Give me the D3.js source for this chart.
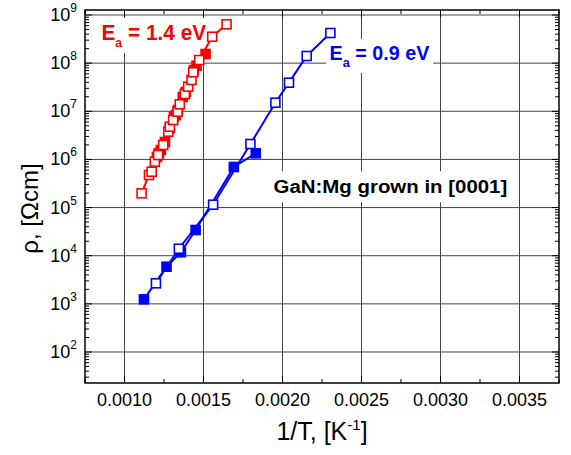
<!DOCTYPE html>
<html><head><meta charset="utf-8">
<script src="https://cdn.jsdelivr.net/npm/d3@7"></script>
<style>body{margin:0;background:#fff}svg{display:block}</style>
</head><body>
<svg id="c" width="571" height="455"></svg>
<script>
// ---- data ----
const xTicks = [0.0010, 0.0015, 0.0020, 0.0025, 0.0030, 0.0035];
const xTickLabels = ["0.0010", "0.0015", "0.0020", "0.0025", "0.0030", "0.0035"];
const yDecades = [2, 3, 4, 5, 6, 7, 8, 9];

const redOpenX = [0.001108,0.001155,0.001172,0.001192,0.001213,0.001245,0.001277,0.001287,0.001308,0.001336,0.001350,0.001382,0.001403,0.001424,0.001435,0.001473,0.001555,0.001646];
const redOpenLogY = [5.296,5.676,5.745,5.953,6.092,6.300,6.576,6.680,6.819,6.991,7.145,7.359,7.511,7.650,7.810,8.065,8.549,8.807];
const redFilledX = [0.001205,0.001218,0.001230,0.001256,0.001287,0.001313,0.001325,0.001338,0.001369,0.001388,0.001439,0.001456,0.001513];
const redFilledLogY = [6.050,6.133,6.196,6.362,6.653,6.881,6.923,7.027,7.297,7.400,7.857,7.947,8.190];

const blueOpenX = [0.001199,0.001344,0.001561,0.001797,0.001955,0.002041,0.002153,0.002303];
const blueOpenLogY = [3.427,4.145,5.059,6.320,7.178,7.594,8.148,8.626];
const blueFilledX = [0.001123,0.001266,0.001357,0.001450,0.001692,0.001831];
const blueFilledLogY = [3.094,3.772,4.071,4.534,5.843,6.127];

// ---- layout ----
const svg = d3.select("#c");
const L = 85, R = 559, T = 10, B = 383;
const x = d3.scaleLinear().domain([0.00075, 0.00375]).range([L, R]);
const y = d3.scaleLog().domain([22.7, 1.27e9]).range([B, T]);
const FONT = "Arial, 'Liberation Sans', sans-serif";

// grid
const g = svg.append("g");
g.selectAll(".vg").data(xTicks).join("line")
  .attr("x1", d => x(d)).attr("x2", d => x(d)).attr("y1", T).attr("y2", B)
  .attr("stroke", "#444").attr("stroke-width", 1);
g.selectAll(".hg").data(yDecades).join("line")
  .attr("x1", L).attr("x2", R).attr("y1", d => y(Math.pow(10, d))).attr("y2", d => y(Math.pow(10, d)))
  .attr("stroke", "#444").attr("stroke-width", 1);

// stretch a text horizontally to a target width, anchored at its left
function fitWidth(t, x0, w) {
  const bb = t.node().getBBox();
  const k = w / bb.width;
  t.attr("transform", `translate(${x0},0) scale(${k},1) translate(${-x0},0)`);
}
const labels = svg.append("g");

const t1 = labels.append("text").attr("x", 101.5).attr("y", 40.5)
  .attr("font-family", FONT).attr("font-weight", "bold").attr("font-size", 22).attr("fill", "#ff0000");
t1.append("tspan").text("E");
t1.append("tspan").attr("font-size", 13).attr("dy", 6.5).text("a");
t1.append("tspan").attr("dy", -6.5).text(" = 1.4 eV");
fitWidth(t1, 101.5, 105);

const t2 = labels.append("text").attr("x", 329.5).attr("y", 60)
  .attr("font-family", FONT).attr("font-weight", "bold").attr("font-size", 20).attr("fill", "#0000ff");
t2.append("tspan").text("E");
t2.append("tspan").attr("font-size", 13).attr("dy", 7).text("a");
t2.append("tspan").attr("dy", -7).text(" = 0.9 eV");
fitWidth(t2, 329.5, 100.5);

const t3 = labels.append("text").attr("x", 273.5).attr("y", 193.5)
  .attr("font-family", FONT).attr("font-weight", "bold").attr("font-size", 19).attr("fill", "#000")
  .text("GaN:Mg grown in [0001]");
fitWidth(t3, 273.5, 234);

[[t1,[3,3],101.5,105],[t2,[3,3],329.5,100.5],[t3,[6,5],273.5,234]].forEach(([t,p,x0,w]) => {
  const bb = t.node().getBBox();
  labels.insert("rect", ":first-child")
    .attr("x", x0 - p[0]).attr("y", bb.y - p[1])
    .attr("width", w + 2*p[0]).attr("height", bb.height + 2*p[1]).attr("fill", "#fff");
});

// data series
function series(xs, ys, color, filled) {
  const pts = xs.map((v, i) => [v, Math.pow(10, ys[i])]);
  svg.append("path").datum(pts)
    .attr("d", d3.line().x(d => x(d[0])).y(d => y(d[1])))
    .attr("fill", "none").attr("stroke", color).attr("stroke-width", 2);
  const s = 9;
  svg.append("g").selectAll("rect").data(pts).join("rect")
    .attr("x", d => x(d[0]) - s / 2).attr("y", d => y(d[1]) - s / 2)
    .attr("width", s).attr("height", s)
    .attr("fill", filled ? color : "#fff").attr("stroke", color).attr("stroke-width", 1.6);
}
series(blueFilledX, blueFilledLogY, "#0000ff", true);
series(blueOpenX, blueOpenLogY, "#0000ff", false);
series(redFilledX, redFilledLogY, "#ff0000", true);
series(redOpenX, redOpenLogY, "#ff0000", false);

// ticks
const tk = svg.append("g").attr("stroke", "#000").attr("stroke-width", 1);
const xMinor = d3.range(0.00075, 0.003751, 0.00025);
xMinor.forEach(v => {
  const major = xTicks.some(t => Math.abs(t - v) < 1e-9);
  const len = major ? 7 : 4;
  tk.append("line").attr("x1", x(v)).attr("x2", x(v)).attr("y1", B).attr("y2", B - len);
  tk.append("line").attr("x1", x(v)).attr("x2", x(v)).attr("y1", T).attr("y2", T + len);
});
const yTicksAll = [];
for (let e = 1; e <= 9; e++) for (let m = 1; m <= 9; m++) {
  const v = m * Math.pow(10, e);
  if (v >= 22.7 && v <= 1.27e9) yTicksAll.push([v, m === 1]);
}
yTicksAll.forEach(([v, major]) => {
  const len = major ? 7 : 4;
  tk.append("line").attr("x1", L).attr("x2", L + len).attr("y1", y(v)).attr("y2", y(v));
  tk.append("line").attr("x1", R).attr("x2", R - len).attr("y1", y(v)).attr("y2", y(v));
});

// frame
svg.append("rect").attr("x", L).attr("y", T).attr("width", R - L).attr("height", B - T)
  .attr("fill", "none").attr("stroke", "#000").attr("stroke-width", 1.5);

// tick labels
svg.append("g").selectAll("text").data(xTicks).join("text")
  .attr("x", d => x(d)).attr("y", 406).attr("text-anchor", "middle")
  .attr("font-family", FONT).attr("font-size", 18).attr("fill", "#000")
  .text((d, i) => xTickLabels[i]);

const yl = svg.append("g");
yDecades.forEach(d => {
  const t = yl.append("text").attr("x", 77).attr("y", y(Math.pow(10, d)) + 6)
    .attr("text-anchor", "end").attr("font-family", FONT).attr("font-size", 18).attr("fill", "#000");
  t.append("tspan").text("10");
  t.append("tspan").attr("font-size", 12).attr("dy", -9).text(d);
});

// axis titles
const xt = svg.append("text").attr("x", (L + R) / 2).attr("y", 440).attr("text-anchor", "middle")
  .attr("font-family", FONT).attr("font-size", 25).attr("fill", "#000");
xt.append("tspan").text("1/T, [K");
xt.append("tspan").attr("font-size", 15).attr("dy", -10).text("-1");
xt.append("tspan").attr("dy", 10).text("]");

svg.append("text").attr("transform", `translate(38,${(T + B) / 2 + 12}) rotate(-90)`)
  .attr("text-anchor", "middle").attr("font-family", FONT).attr("font-size", 24).attr("fill", "#000")
  .text("ρ, [Ωcm]");
</script>
</body></html>
